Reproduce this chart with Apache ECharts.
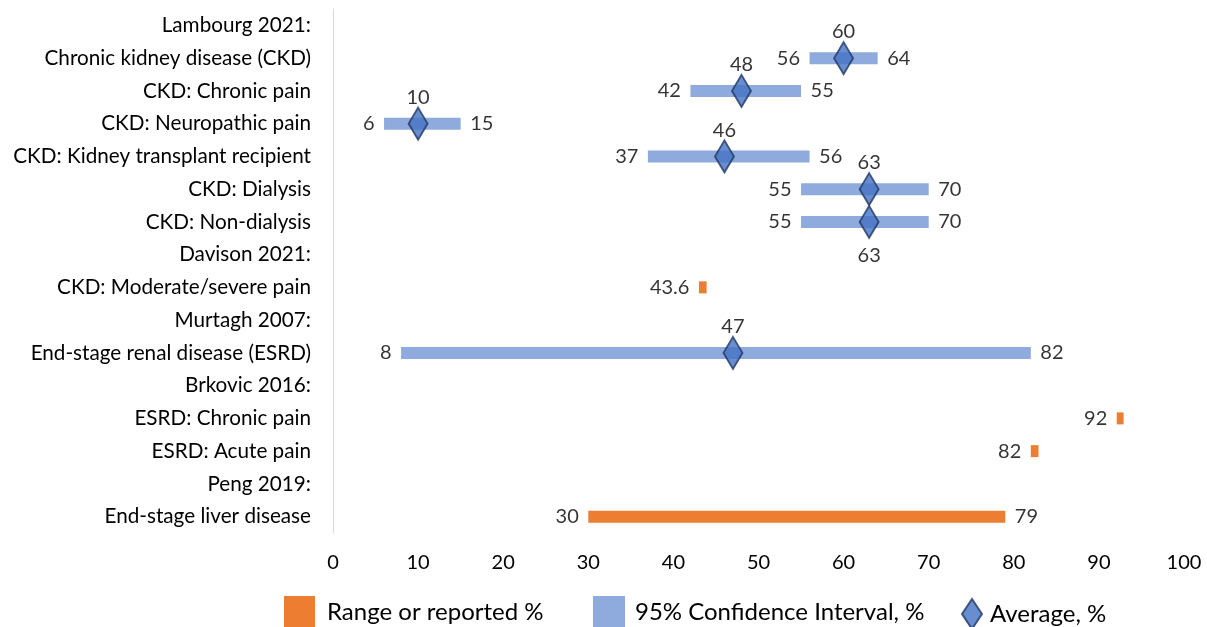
<!DOCTYPE html>
<html>
<head>
<meta charset="utf-8">
<script src="https://cdn.jsdelivr.net/npm/echarts@6/dist/echarts.min.js"></script>
<style>html,body{margin:0;padding:0;background:#fff}#c{width:1207px;height:627px}</style>
</head>
<body>
<div id="c"></div>
<script>
// ---- data (top row first) ----
var categories = [
  'Lambourg 2021:',
  'Chronic kidney disease (CKD)',
  'CKD: Chronic pain',
  'CKD: Neuropathic pain',
  'CKD: Kidney transplant recipient',
  'CKD: Dialysis',
  'CKD: Non-dialysis',
  'Davison 2021:',
  'CKD: Moderate/severe pain',
  'Murtagh 2007:',
  'End-stage renal disease (ESRD)',
  'Brkovic 2016:',
  'ESRD: Chronic pain',
  'ESRD: Acute pain',
  'Peng 2019:',
  'End-stage liver disease'
];
// 95% confidence interval (blue)
var ciLow  = [null, 56, 42, 6, 37, 55, 55, null, null, null, 8, null, null, null, null, null];
var ciHigh = [null, 64, 55, 15, 56, 70, 70, null, null, null, 82, null, null, null, null, null];
// Average (diamond)
var average = [null, 60, 48, 10, 46, 63, 63, null, null, null, 47, null, null, null, null, null];
// Range or reported % (orange)
var rangeLow  = [null, null, null, null, null, null, null, null, 43.0, null, null, null, 92.1, 82.0, null, 30];
var rangeHigh = [null, null, null, null, null, null, null, null, 43.9, null, null, null, 92.9, 82.9, null, 79];
var reported  = [null, null, null, null, null, null, null, null, 43.6, null, null, null, 92, 82, null, null];
var xTicks = [0, 10, 20, 30, 40, 50, 60, 70, 80, 90, 100];

var avgLabelBelow = {6: true};

var FONT = 'Lato';
var n = categories.length;
var base = [], orange = [], blue = [], leftLbl = [], rightLbl = [], avgPts = [];
for (var i = 0; i < n; i++) {
  var lo = ciLow[i] != null ? ciLow[i] : rangeLow[i];
  var hi = ciHigh[i] != null ? ciHigh[i] : rangeHigh[i];
  base.push(lo != null ? lo : '-');
  orange.push(rangeLow[i] != null ? +(rangeHigh[i] - rangeLow[i]).toFixed(3) : '-');
  blue.push(ciLow[i] != null ? ciHigh[i] - ciLow[i] : '-');
  if (lo != null) {
    var txt = reported[i] != null ? String(reported[i]) : String(lo);
    leftLbl.push({value: [lo, i], txt: txt});
    if (reported[i] == null) rightLbl.push({value: [hi, i], txt: String(hi)});
  }
  if (average[i] != null) {
    avgPts.push({value: [average[i], i],
      label: avgLabelBelow[i] ? {position: 'bottom', distance: 6} : {position: 'top', distance: -1}});
  }
}

var chart = echarts.init(document.getElementById('c'), null, {renderer: 'canvas'});
var lblStyle = {fontFamily: FONT, fontSize: 20, color: '#000'};
chart.setOption({
  animation: false,
  textStyle: {fontFamily: FONT},
  grid: {left: 333, right: 23, top: 9, bottom: 94, containLabel: false},
  xAxis: {
    type: 'value', min: xTicks[0], max: xTicks[xTicks.length - 1], interval: xTicks[1] - xTicks[0],
    axisLine: {show: false}, axisTick: {show: false}, splitLine: {show: false},
    axisLabel: {fontFamily: FONT, fontSize: 20, color: '#000', margin: 20}
  },
  yAxis: {
    type: 'category', data: categories, inverse: true,
    axisLine: {show: true, lineStyle: {color: '#d9d9d9', width: 1}},
    axisTick: {show: false}, splitLine: {show: false},
    axisLabel: {fontFamily: FONT, fontSize: 20.7, color: '#000', margin: 22}
  },
  legend: [
    {data: [{name: 'Range or reported %', icon: 'rect'}], left: 279, top: 591, itemWidth: 31, itemHeight: 32,
     textStyle: {fontFamily: FONT, fontSize: 24, color: '#000', padding: [0, 0, 0, 7]}},
    {data: [{name: '95% Confidence Interval, %', icon: 'rect'}], left: 588, top: 591, itemWidth: 32, itemHeight: 32,
     textStyle: {fontFamily: FONT, fontSize: 24, color: '#000', padding: [0, 0, 0, 5]}},
    {data: [{name: 'Average, %', icon: 'diamond'}], left: 956, top: 593, itemWidth: 20, itemHeight: 30,
     textStyle: {fontFamily: FONT, fontSize: 24, color: '#000', padding: [0, 0, 0, 3]}}
  ],
  series: [
    {name: 'base', type: 'bar', stack: 'r', data: base, barWidth: 12, silent: true,
     itemStyle: {color: 'rgba(0,0,0,0)'}},
    {name: 'Range or reported %', type: 'bar', stack: 'r', data: orange, barWidth: 12,
     itemStyle: {color: '#ED7D31'}},
    {name: '95% Confidence Interval, %', type: 'bar', stack: 'r', data: blue, barWidth: 12,
     itemStyle: {color: '#8FAADC'}},
    {name: 'leftLabels', type: 'scatter', data: leftLbl, symbolSize: 1, silent: true,
     itemStyle: {color: 'rgba(0,0,0,0)'},
     label: Object.assign({show: true, position: 'left', distance: 9, formatter: function (p) { return p.data.txt; }}, lblStyle)},
    {name: 'rightLabels', type: 'scatter', data: rightLbl, symbolSize: 1, silent: true,
     itemStyle: {color: 'rgba(0,0,0,0)'},
     label: Object.assign({show: true, position: 'right', distance: 9, formatter: function (p) { return p.data.txt; }}, lblStyle)},
    {name: 'Average, %', type: 'scatter', data: avgPts, symbol: 'diamond', symbolSize: [19, 32], z: 5,
     itemStyle: {color: '#4472C4', borderColor: '#203864', borderWidth: 2},
     label: Object.assign({show: true, formatter: function (p) { return p.value[0]; }}, lblStyle)}
  ]
});
</script>
</body>
</html>
